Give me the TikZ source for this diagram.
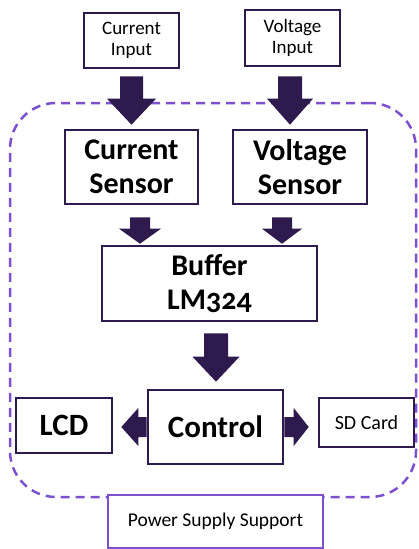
\documentclass[tikz,border=0pt]{standalone}
\usepackage{fontspec}
\setmainfont{Carlito}[Numbers=OldStyle]
\usetikzlibrary{calc}
\definecolor{dk}{HTML}{2E1A4C}
\definecolor{pu}{HTML}{7D50D0}
\pgfdeclarelayer{bg}
\pgfdeclarelayer{mid}
\pgfsetlayers{bg,mid,main}
\tikzset{
  box/.style={draw=dk, line width=2.6pt, fill=white, inner sep=0pt, align=center, text=black},
  big/.style={font=\fontsize{30}{34}\selectfont\bfseries},
  bigger/.style={font=\fontsize{31}{35}\selectfont\bfseries},
  small/.style={font=\fontsize{19}{21}\selectfont},
  arr/.style={fill=dk},
  region/.style={draw=pu, line width=2.5pt, dash pattern=on 9pt off 6pt, rounded corners=46pt, inner sep=0pt},
  psubox/.style={draw=pu, line width=2pt, fill=white, inner sep=0pt, text=black, font=\fontsize{19.5}{21}\selectfont},
}
\newcommand\blockarrow[5]{% start, tip, shaft half width, head half width, head length
  \coordinate (ba-b) at ($(#2)!#5!(#1)$);
  \fill[arr] ($(#1)!#3!90:(#2)$) -- ($(ba-b)!#3!90:(#2)$) -- ($(ba-b)!#4!90:(#2)$) -- (#2)
    -- ($(ba-b)!#4!-90:(#2)$) -- ($(ba-b)!#3!-90:(#2)$) -- ($(#1)!#3!-90:(#2)$) -- cycle;
}
\begin{document}
\begin{tikzpicture}[x=1pt,y=-1pt]
\useasboundingbox (0,0) rectangle (418,549);
\path
  (131.5,40.5) node[box, small, minimum width=95pt, minimum height=55pt] (ci) {Current\\Input}
  (292.5,38)   node[box, small, minimum width=95pt, minimum height=56pt] (vi) {Voltage\\Input}
  (131.5,167)  node[box, big, minimum width=133pt, minimum height=74pt] (cs) {Current\\Sensor}
  (300,167)    node[box, big, minimum width=134pt, minimum height=74pt] (vs) {Voltage\\Sensor}
  (209.5,283.5) node[box, big, minimum width=215pt, minimum height=75pt] (buf) {Buffer\\LM324}
  (215.5,427)  node[box, bigger, minimum width=135pt, minimum height=74pt] (ctl) {Control}
  (64,425.5)   node[box, bigger, minimum width=96pt, minimum height=55pt] (lcd) {LCD}
  (366.5,422.5) node[box, font=\fontsize{20}{22}\selectfont, minimum width=95pt, minimum height=49pt] (sd) {SD Card};
\node[psubox, minimum width=215pt, minimum height=53pt] (psu) at (215.5,521.5) {Power Supply Support};
\begin{pgfonlayer}{bg}
\node[region, minimum width=406pt, minimum height=394pt] (grp) at (213,300) {};
\end{pgfonlayer}
\coordinate (a1s) at ($(ci.south)+(0,7)$);
\coordinate (a1t) at ($(cs.north)+(0,-4)$);
\coordinate (a2s) at ($(vi.south)+(-2.5,9)$);
\coordinate (a2t) at ($(vs.north)+(-10,-4)$);
\coordinate (a3s) at ($(cs.south)+(8.5,12)$);
\coordinate (a3t) at ($(buf.north)+(-69.5,-1)$);
\coordinate (a4s) at ($(vs.south)+(-18,12)$);
\coordinate (a4t) at ($(buf.north)+(72.5,-1)$);
\coordinate (a5s) at ($(buf.south)+(6.5,11)$);
\coordinate (a5t) at ($(ctl.north)+(0.5,-7)$);
\coordinate (a6t) at ($(lcd.east)+(8,1.5)$);
\coordinate (a7t) at ($(sd.west)+(-9,4.5)$);
\begin{pgfonlayer}{mid}
\blockarrow{a1s}{a1t}{11.5pt}{24.5pt}{26pt}
\blockarrow{a2s}{a2t}{12pt}{23pt}{26pt}
\blockarrow{a3s}{a3t}{10pt}{21pt}{15pt}
\blockarrow{a4s}{a4t}{10pt}{20pt}{15pt}
\blockarrow{a5s}{a5t}{12pt}{23.5pt}{25pt}
\blockarrow{ctl.west}{a6t}{10pt}{19pt}{17pt}
\blockarrow{ctl.east}{a7t}{10pt}{19pt}{15pt}
\end{pgfonlayer}
\end{tikzpicture}
\end{document}
